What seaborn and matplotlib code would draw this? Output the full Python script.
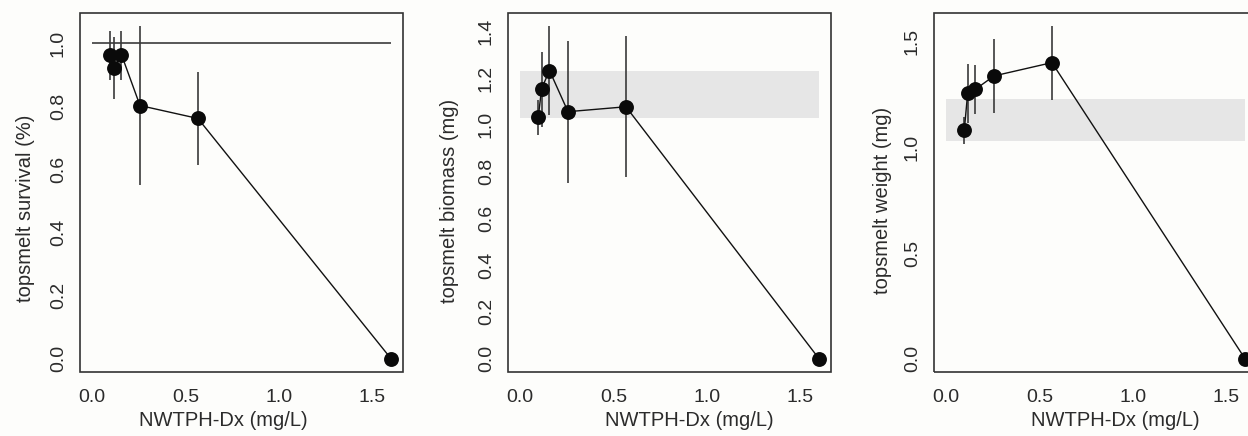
import numpy as np
import pandas as pd
import matplotlib
matplotlib.use("Agg")
import matplotlib.pyplot as plt
from matplotlib.patches import Rectangle
import seaborn as sns

# ---- data ----
conc = [0.098, 0.116, 0.158, 0.257, 0.567, 1.60]

survival = [0.963, 0.921, 0.963, 0.802, 0.761, 0.0]
survival_lo = [0.882, 0.822, 0.882, 0.550, 0.615, np.nan]
survival_hi = [1.038, 1.019, 1.038, 1.053, 0.908, np.nan]
survival_ref = 1.0

biomass = [1.034, 1.155, 1.232, 1.056, 1.077, 0.0]
biomass_lo = [0.956, 0.991, 1.041, 0.750, 0.778, np.nan]
biomass_hi = [1.105, 1.312, 1.421, 1.357, 1.380, np.nan]

weight = [1.082, 1.256, 1.276, 1.339, 1.402, 0.0]
weight_lo = [1.015, 1.114, 1.158, 1.164, 1.227, np.nan]
weight_hi = [1.145, 1.394, 1.389, 1.516, 1.574, np.nan]

control_band = [1.03, 1.232]

xticks = [0.0, 0.5, 1.0, 1.5]
yticks1 = [0.0, 0.2, 0.4, 0.6, 0.8, 1.0]
yticks2 = [0.0, 0.2, 0.4, 0.6, 0.8, 1.0, 1.2, 1.4]
yticks3 = [0.0, 0.5, 1.0, 1.5]

xlabel = "NWTPH-Dx (mg/L)"
ylabels = ["topsmelt survival (%)", "topsmelt biomass (mg)", "topsmelt weight (mg)"]

# ---- style ----
BG = "#fdfdfb"
INK = "#2b2b2b"
sns.set_style("white")
plt.rcParams["font.family"] = ["Liberation Sans", "DejaVu Sans"]
plt.rcParams["font.size"] = 13
plt.rcParams["text.color"] = INK
plt.rcParams["axes.labelcolor"] = INK
plt.rcParams["xtick.color"] = INK
plt.rcParams["ytick.color"] = INK

W, H = 1248, 436
fig = plt.figure(figsize=(W / 100, H / 100), dpi=100, facecolor=BG)

ax_w = 323 / W
ax_h = 359 / H
ax_b = (H - 372) / H
lefts = [80 / W, 508 / W, 934 / W]

panels = [
    dict(y=survival, lo=survival_lo, hi=survival_hi, yt=yticks1, band=None, ref=survival_ref,
         ylab=(-0.170, 0.457), xlab=(0.443, -0.136)),
    dict(y=biomass, lo=biomass_lo, hi=biomass_hi, yt=yticks2, band=control_band, ref=None,
         ylab=(-0.180, 0.476), xlab=(0.560, -0.136)),
    dict(y=weight, lo=weight_lo, hi=weight_hi, yt=yticks3, band=control_band, ref=None,
         ylab=(-0.158, 0.479), xlab=(0.560, -0.136)),
]

for left, p, ylab in zip(lefts, panels, ylabels):
    ax = fig.add_axes([left, ax_b, ax_w, ax_h])
    ax.set_facecolor(BG)
    df = pd.DataFrame({"conc": conc, "y": p["y"], "lo": p["lo"], "hi": p["hi"]})

    # R-style axis ranges (4% extension)
    xmin, xmax = 0.0, max(conc)
    ymin = 0.0
    ymax = np.nanmax(df["hi"])
    if p["ref"] is not None:
        ymax = max(ymax, p["ref"])
    dx = 0.04 * (xmax - xmin)
    dy = 0.04 * (ymax - ymin)
    ax.set_xlim(xmin - dx, xmax + dx)
    ax.set_ylim(ymin - dy, ymax + dy)

    if p["band"] is not None:
        ax.fill_between([xmin, xmax], p["band"][0], p["band"][1],
                        color="#e6e6e6", lw=0, zorder=0)
    if p["ref"] is not None:
        ax.hlines(p["ref"], xmin, xmax, color="#4a4a4a", lw=1.3, zorder=1)

    ax.vlines(df["conc"], df["lo"], df["hi"], color="#3a3a3a", lw=1.2, zorder=2)
    sns.lineplot(data=df, x="conc", y="y", sort=False, color="#111111", lw=1.0,
                 ax=ax, zorder=3, legend=False)
    sns.scatterplot(data=df, x="conc", y="y", color="#0a0a0a", s=115, linewidth=0,
                    ax=ax, zorder=4, legend=False, clip_on=False)

    ax.set_xticks(xticks)
    ax.set_xticklabels([f"{t:.1f}" for t in xticks])
    ax.set_yticks(p["yt"])
    ax.set_yticklabels([f"{t:.1f}" for t in p["yt"]])

    for side in ["left", "bottom"]:
        ax.spines[side].set_position(("outward", 2.5))
        ax.spines[side].set_color("none")
    for side in ["right", "top"]:
        ax.spines[side].set_visible(False)
    ax.add_patch(Rectangle((0, 0), 1, 1, transform=ax.transAxes, fill=False,
                           edgecolor="#333333", lw=1.2, clip_on=False, zorder=5))
    ax.tick_params(axis="both", which="major", direction="out", length=4.0,
                   width=1.0, color="#333333", labelsize=14)
    ax.tick_params(axis="x", pad=5.5)
    ax.tick_params(axis="y", pad=3, labelrotation=90)
    for lbl in ax.get_yticklabels():
        lbl.set_va("center")

    ax.set_xlabel(xlabel, fontsize=14.5)
    ax.set_ylabel(ylab, fontsize=14.5)
    ax.xaxis.label.set_va("center")
    ax.yaxis.label.set_va("center")
    ax.xaxis.set_label_coords(*p["xlab"])
    ax.yaxis.set_label_coords(*p["ylab"])

fig.savefig("out.png", dpi=100, facecolor=BG)
